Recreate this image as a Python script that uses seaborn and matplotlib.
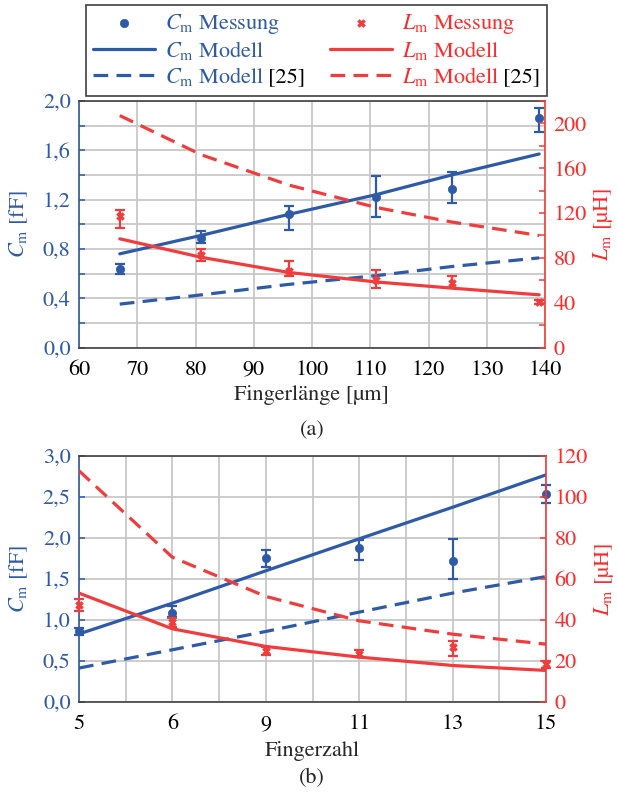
import matplotlib
matplotlib.use('Agg')
import matplotlib.pyplot as plt
import matplotlib.text as mtext
import matplotlib.transforms as mtransforms
from matplotlib.ticker import MultipleLocator, FuncFormatter
import numpy as np
import seaborn as sns

# (a) Fingerlänge
fingerlaenge = [67, 81, 96, 111, 124, 139]
cm_mess_a = [0.635, 0.89, 1.08, 1.22, 1.29, 1.86]
cm_lo_a = [0.60, 0.85, 0.955, 1.06, 1.175, 1.745]
cm_hi_a = [0.675, 0.945, 1.15, 1.39, 1.42, 1.94]
cm_mod_a = [0.76, 0.91, 1.08, 1.24, 1.40, 1.57]
cm_mod25_a = [0.352, 0.427, 0.512, 0.583, 0.657, 0.727]
lm_mess_a = [117, 83, 68, 60, 58, 40.5]
lm_lo_a = [107, 77, 63.5, 53.5, 53, 38.5]
lm_hi_a = [123, 88, 77, 69, 63.5, 42.5]
lm_mod_a = [97, 80.5, 67, 58.5, 53, 47]
lm_mod25_a = [207, 172, 145, 125, 112, 100]

# (b) Fingerzahl
fingerzahl = ['5', '6', '9', '11', '13', '15']
cm_mess_b = [0.86, 1.09, 1.76, 1.875, 1.72, 2.535]
cm_lo_b = [0.82, 1.035, 1.645, 1.735, 1.50, 2.425]
cm_hi_b = [0.90, 1.165, 1.855, 1.975, 1.985, 2.645]
cm_mod_b = [0.83, 1.205, 1.60, 1.99, 2.375, 2.77]
cm_mod25_b = [0.414, 0.637, 0.86, 1.096, 1.328, 1.53]
lm_mess_b = [47.4, 39.0, 25.1, 23.5, 26.6, 18.3]
lm_lo_b = [44.6, 36.5, 23.0, 21.9, 22.2, 16.8]
lm_hi_b = [50.2, 41.2, 27.0, 25.5, 30.0, 19.8]
lm_mod_b = [53.1, 35.7, 27.1, 21.9, 17.8, 15.4]
lm_mod25_b = [112.8, 70.6, 51.5, 39.6, 33.1, 28.2]

BLUE = '#2E5AA8'
RED = '#F03C3C'
RED_TXT = '#FF2A2A'
DARK = '#404040'
GRID = '#c8c8c8'
LW = 2.3
DASH = (0, (4.6, 2.6))

sns.set_theme(style='white')
plt.rcParams['font.family'] = ['STIXGeneral', 'DejaVu Serif']
plt.rcParams['mathtext.fontset'] = 'stix'
plt.rcParams['font.size'] = 16

comma = FuncFormatter(lambda v, p: f'{v:.1f}'.replace('.', ','))
CM = '$C_\\mathrm{m}$'
LM = '$L_\\mathrm{m}$'


def draw_panel(ax, x, cm_mess, cm_lo, cm_hi, cm_mod, cm_mod25,
               lm_mess, lm_lo, lm_hi, lm_mod, lm_mod25):
    ax2 = ax.twinx()
    cm_mess = np.array(cm_mess)
    lm_mess = np.array(lm_mess)

    sns.scatterplot(x=x, y=cm_mess, ax=ax, color=BLUE, edgecolor=BLUE, marker='o',
                    s=36, linewidth=0.5, zorder=4, legend=False, clip_on=False)
    h_cm = ax.collections[-1]
    ax.errorbar(x, cm_mess, yerr=[cm_mess - np.array(cm_lo), np.array(cm_hi) - cm_mess],
                fmt='none', ecolor=BLUE, elinewidth=1.6, capsize=3.5, capthick=1.6,
                zorder=4, clip_on=False)
    sns.lineplot(x=x, y=cm_mod, ax=ax, color=BLUE, lw=LW, legend=False, zorder=3)
    h_cm_mod = ax.lines[-1]
    sns.lineplot(x=x, y=cm_mod25, ax=ax, color=BLUE, lw=LW, linestyle=DASH,
                 legend=False, zorder=3)
    h_cm_mod25 = ax.lines[-1]

    sns.scatterplot(x=x, y=lm_mess, ax=ax2, color=RED, edgecolor=RED, marker='X',
                    s=30, linewidth=0.5, zorder=4, legend=False, clip_on=False)
    h_lm = ax2.collections[-1]
    ax2.errorbar(x, lm_mess, yerr=[lm_mess - np.array(lm_lo), np.array(lm_hi) - lm_mess],
                 fmt='none', ecolor=RED, elinewidth=1.6, capsize=3.5, capthick=1.6,
                 zorder=4, clip_on=False)
    sns.lineplot(x=x, y=lm_mod, ax=ax2, color=RED, lw=LW, legend=False, zorder=3)
    h_lm_mod = ax2.lines[-1]
    sns.lineplot(x=x, y=lm_mod25, ax=ax2, color=RED, lw=LW, linestyle=DASH,
                 legend=False, zorder=3)
    h_lm_mod25 = ax2.lines[-1]

    handles = [h_cm, h_cm_mod, h_cm_mod25, h_lm, h_lm_mod, h_lm_mod25]

    # axes styling
    ax.set_axisbelow(True)
    ax.grid(True, which='both', color=GRID, lw=1.3)
    for s in ['top', 'bottom']:
        ax.spines[s].set_color(DARK)
        ax.spines[s].set_linewidth(1.2)
        ax2.spines[s].set_visible(False)
    ax.spines['left'].set_color(BLUE)
    ax.spines['left'].set_linewidth(1.2)
    ax.spines['right'].set_visible(False)
    ax2.spines['left'].set_visible(False)
    ax2.spines['right'].set_color(RED)
    ax2.spines['right'].set_linewidth(1.2)

    ax.tick_params(axis='y', which='both', direction='in', length=4, width=1.1,
                   colors=BLUE, pad=6, labelsize=16)
    ax2.tick_params(axis='y', which='both', direction='in', length=4, width=1.1,
                    colors=RED, labelcolor=RED_TXT, pad=6, labelsize=16)
    ax.tick_params(axis='x', which='both', direction='in', length=4, width=1.1,
                   color=DARK, labelcolor='black', pad=9, labelsize=16, top=False)
    ax.yaxis.set_major_formatter(comma)

    ax.set_ylabel(CM + ' [fF]', color=BLUE, fontsize=16)
    ax2.set_ylabel(LM + ' [µH]', color=RED_TXT, fontsize=16)
    ax.yaxis.set_label_coords(-0.105, 0.5)
    ax2.yaxis.set_label_coords(1.098, 0.5)
    return ax2, handles


fig = plt.figure(figsize=(6.17, 7.95), dpi=100)
ax_a = fig.add_axes([79 / 617, 1 - 347.5 / 795, 466 / 617, 246.5 / 795])
ax_b = fig.add_axes([79 / 617, 1 - 702 / 795, 467 / 617, 246 / 795])

ax_a2, handles = draw_panel(ax_a, fingerlaenge, cm_mess_a, cm_lo_a, cm_hi_a, cm_mod_a,
                            cm_mod25_a, lm_mess_a, lm_lo_a, lm_hi_a, lm_mod_a, lm_mod25_a)
ax_a.set_xlim(60, 140)
ax_a.set_ylim(0, 2.0)
ax_a2.set_ylim(0, 220)
ax_a.xaxis.set_major_locator(MultipleLocator(10))
ax_a.yaxis.set_major_locator(MultipleLocator(0.4))
ax_a.yaxis.set_minor_locator(MultipleLocator(0.2))
ax_a2.yaxis.set_major_locator(MultipleLocator(40))
ax_a2.yaxis.set_minor_locator(MultipleLocator(20))
ax_a.set_xlabel('Fingerlänge [µm]', fontsize=16)
ax_a.xaxis.set_label_coords(0.5, -0.152)

pos_b = np.arange(len(fingerzahl))
ax_b2, _ = draw_panel(ax_b, pos_b, cm_mess_b, cm_lo_b, cm_hi_b, cm_mod_b,
                      cm_mod25_b, lm_mess_b, lm_lo_b, lm_hi_b, lm_mod_b, lm_mod25_b)
ax_b.set_xlim(0, len(fingerzahl) - 1)
ax_b.set_ylim(0, 3.0)
ax_b2.set_ylim(0, 120)
ax_b.set_xticks(pos_b)
ax_b.set_xticklabels(fingerzahl)
ax_b.xaxis.set_minor_locator(MultipleLocator(0.5))
ax_b.yaxis.set_major_locator(MultipleLocator(0.5))
ax_b2.yaxis.set_major_locator(MultipleLocator(20))
ax_b.set_xlabel('Fingerzahl', fontsize=16)
ax_b.xaxis.set_label_coords(0.5, -0.157)

fig.text(312 / 617, 1 - 430 / 795, '(a)', ha='center', va='center', fontsize=16)
fig.text(312 / 617, 1 - 778 / 795, '(b)', ha='center', va='center', fontsize=16)

labels = [CM + ' Messung', CM + ' Modell', CM + ' Modell [25]',
          LM + ' Messung', LM + ' Modell', LM + ' Modell [25]']
leg = fig.legend(handles, labels, ncol=2, loc='upper left',
                 bbox_to_anchor=(86 / 617, 1 - 5 / 795), borderaxespad=0,
                 frameon=True, fancybox=False, edgecolor=DARK, framealpha=1,
                 fontsize=16, handlelength=2.8, handletextpad=0.45,
                 columnspacing=1.1, labelspacing=0.15, borderpad=0.3,
                 scatterpoints=1)
leg.get_frame().set_linewidth(1.2)
for i, t in enumerate(leg.get_texts()):
    t.set_color(BLUE if i < 3 else RED_TXT)

# "[25]" in black: hide the full label and redraw it in two colours
fig.canvas.draw()
renderer = fig.canvas.get_renderer()
for i, base, col in [(2, CM + ' Modell', BLUE), (5, LM + ' Modell', RED_TXT)]:
    t = leg.get_texts()[i]
    w = t.get_window_extent(renderer).width
    t.set_alpha(0)
    tr = t.get_transform()
    fig.add_artist(mtext.Text(0, 0, base, transform=tr, ha='left', va='baseline',
                              color=col, fontproperties=t.get_fontproperties(), zorder=6))
    fig.add_artist(mtext.Text(0, 0, '[25]', ha='right', va='baseline', color='black',
                              transform=mtransforms.offset_copy(tr, fig=fig, x=w, y=0, units='dots'),
                              fontproperties=t.get_fontproperties(), zorder=6))

fig.savefig('out.png', dpi=100)
